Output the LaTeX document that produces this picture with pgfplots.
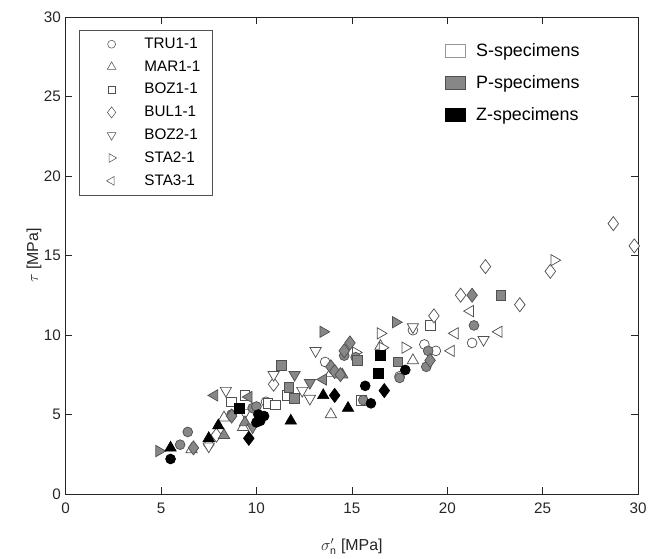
\documentclass[border=0pt]{standalone}
\usepackage{pgfplots}
\pgfplotsset{compat=1.18}
\usepackage{fontspec}
\setmainfont{Liberation Sans}
\definecolor{pgray}{RGB}{135,135,135}
\definecolor{edge}{RGB}{80,80,80}
\definecolor{axc}{RGB}{38,38,38}
\tikzset{
  fw/.style={draw=edge, fill=white, line width=0.55pt},
  fg/.style={draw=edge, fill=pgray, line width=0.55pt},
  fk/.style={draw=black, fill=black, line width=0.55pt},
}
\pgfplotsset{
  ci/.style={only marks, mark=*, mark size=3.7pt, forget plot},
  tu/.style={only marks, mark=triangle*, mark size=4.9pt, forget plot},
  sq/.style={only marks, mark=square*, mark size=3.6pt, forget plot},
  di/.style={only marks, mark=diamond*, mark size=5.3pt, forget plot},
}
\begin{document}
\begin{tikzpicture}
\begin{axis}[name=ax,
  scale only axis, width=432pt, height=360pt,
  xmin=0, xmax=30, ymin=0, ymax=30,
  xtick={0,5,...,30}, ytick={0,5,...,30},
  tick align=inside, major tick length=5pt,
  axis line style={axc, line width=0.5pt},
  every tick/.style={axc, line width=0.5pt},
  /pgf/number format/assume math mode=true,
  tick label style={font=\fontsize{11.5}{13}\selectfont, text=axc},
  xticklabel style={yshift=-3pt},
  label style={font=\fontsize{12}{14}\selectfont, text=axc},
  xlabel style={yshift=-12pt},
  ylabel style={yshift=-5pt},
  xlabel={$\sigma'_{\mathrm{n}}$ [MPa]}, ylabel={$\tau$ [MPa]},
  legend style={at={(0.0226,0.973)}, anchor=north west, draw=edge, fill=white,
    nodes={font=\fontsize{11.5}{13}\selectfont},
    row sep=3.7pt, inner xsep=7pt, inner ysep=4pt},
  legend cell align=left,
  legend image code/.code={\pgfpathmoveto{\pgfqpoint{0pt}{0pt}}\pgfpathlineto{\pgfqpoint{40.5pt}{0pt}}\pgfusepath{}\draw[#1] plot[only marks] coordinates {(17.75pt,0pt)};},
]
\addlegendimage{mark=o, mark options={draw=edge, mark size=3pt}}
\addlegendentry{TRU1-1}
\addlegendimage{mark=triangle, mark options={draw=edge, mark size=3.8pt}}
\addlegendentry{MAR1-1}
\addlegendimage{mark=square, mark options={draw=edge, mark size=2.8pt}}
\addlegendentry{BOZ1-1}
\addlegendimage{mark=diamond, mark options={draw=edge, mark size=4.2pt}}
\addlegendentry{BUL1-1}
\addlegendimage{mark=triangle, mark options={draw=edge, mark size=3.8pt, rotate=180}}
\addlegendentry{BOZ2-1}
\addlegendimage{mark=triangle, mark options={draw=edge, mark size=3.8pt, rotate=-90}}
\addlegendentry{STA2-1}
\addlegendimage{mark=triangle, mark options={draw=edge, mark size=3.8pt, rotate=90}}
\addlegendentry{STA3-1}

% ---- white (S) ----
\addplot[ci, mark options={fw}] coordinates {(21.3,9.5) (18.2,10.3) (18.8,9.4) (19.4,9.0) (17.5,7.4) (13.6,8.3) (10.5,5.8)};
\addplot[tu, mark options={fw}] coordinates {(16.5,9.3) (18.2,8.4) (13.9,5.0) (13.9,7.6) (6.6,2.8) (8.3,4.8) (9.3,4.2)};
\addplot[sq, mark options={fw}] coordinates {(19.1,10.6) (15.5,5.9) (11.6,6.2) (10.6,5.7) (11.0,5.6) (8.7,5.8) (9.4,6.2)};
\addplot[di, mark options={fw}] coordinates {(28.7,17.0) (29.8,15.6) (25.4,14.0) (23.8,11.9) (22.0,14.3) (20.7,12.5) (19.3,11.2) (10.9,6.9) (7.5,3.1) (7.9,3.7)};
\addplot[tu, mark options={fw, rotate=180}] coordinates {(21.9,9.7) (18.2,10.5) (13.1,9.0) (10.9,7.5) (12.4,6.5) (12.8,6.0) (8.4,6.5) (9.4,5.1) (7.5,3.0)};
\addplot[tu, mark options={fw, rotate=-90}] coordinates {(25.6,14.7) (16.5,10.1) (17.8,9.2) (16.6,9.2) (15.2,8.9)};
\addplot[tu, mark options={fw, rotate=90}] coordinates {(22.7,10.2) (21.2,11.5) (20.4,10.1) (20.2,9.0)};
% ---- gray (P) ----
\addplot[ci, mark options={fg}] coordinates {(21.4,10.6) (19.0,9.0) (18.9,8.0) (17.5,7.3) (15.6,5.9) (14.6,8.7) (15.2,8.6) (9.8,5.4) (10.0,5.5) (6.0,3.1) (6.4,3.9) (8.7,5.0)};
\addplot[tu, mark options={fg}] coordinates {(8.3,3.7) (9.4,4.5) (14.5,7.5)};
\addplot[sq, mark options={fg}] coordinates {(22.8,12.5) (17.4,8.3) (15.3,8.4) (11.3,8.1) (11.7,6.7) (12.0,6.0)};
\addplot[di, mark options={fg}] coordinates {(21.3,12.5) (19.1,8.4) (14.9,9.5) (14.6,9.0) (13.9,8.0) (14.1,7.7) (14.4,7.5) (6.7,2.9) (8.7,4.9)};
\addplot[tu, mark options={fg, rotate=180}] coordinates {(12.0,7.5) (12.8,7.0) (9.8,4.2)};
\addplot[tu, mark options={fg, rotate=-90}] coordinates {(17.3,10.8) (13.5,10.2) (4.9,2.7)};
\addplot[tu, mark options={fg, rotate=90}] coordinates {(7.8,6.2) (13.5,7.2) (9.6,6.1)};
% ---- black (Z) ----
\addplot[ci, mark options={fk}] coordinates {(17.8,7.8) (15.7,6.8) (16.0,5.7) (10.1,5.0) (10.4,4.9) (10.2,4.6) (5.5,2.2) (10.0,4.5)};
\addplot[tu, mark options={fk}] coordinates {(13.5,6.2) (14.8,5.4) (11.8,4.6) (5.5,2.9) (7.5,3.5) (8.0,4.3)};
\addplot[sq, mark options={fk}] coordinates {(16.5,8.7) (16.4,7.6) (9.1,5.4)};
\addplot[di, mark options={fk}] coordinates {(16.7,6.5) (14.1,6.2) (9.6,3.5)};
\end{axis}
\begin{axis}[
  scale only axis, width=432pt, height=360pt,
  xmin=0, xmax=30, ymin=0, ymax=30, hide axis,
  legend style={at={(0.663,0.95)}, anchor=north west, draw=none, fill=none,
    nodes={font=\fontsize{13.5}{16}\selectfont},
    row sep=8.8pt, inner sep=0pt},
  legend cell align=left,
  legend image code/.code={\pgfpathmoveto{\pgfqpoint{0pt}{0pt}}\pgfpathlineto{\pgfqpoint{21pt}{0pt}}\pgfusepath{}\draw[#1] (0pt,-5pt) rectangle (15pt,5pt);},
]
\addlegendimage{draw=edge!60, fill=white}
\addlegendentry{S-specimens}
\addlegendimage{draw=edge, fill=pgray}
\addlegendentry{P-specimens}
\addlegendimage{draw=black, fill=black}
\addlegendentry{Z-specimens}
\end{axis}
\path ([shift={(-49.5pt,-48.75pt)}]ax.south west) rectangle ([shift={(6.75pt,12.75pt)}]ax.north east);
\end{tikzpicture}
\end{document}
